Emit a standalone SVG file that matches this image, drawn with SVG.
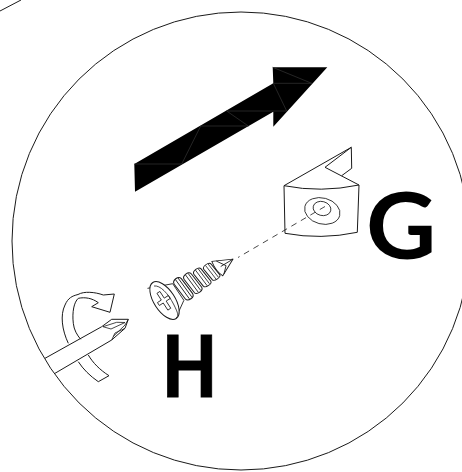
<svg xmlns="http://www.w3.org/2000/svg" width="462" height="472" viewBox="0 0 462 472">
<style>
.l{fill:none;stroke:#1a1a1a;stroke-width:1}
.t{fill:none;stroke:#1a1a1a;stroke-width:.8}
.g{fill:none;stroke:#2e2e2e;stroke-width:.8}
.lb{font-family:Lato,"Liberation Sans",sans-serif;font-size:85px;fill:#000}
</style>
<defs>
<g id="thr">
<path d="M0 -8C0 -12 8 -13 9 -9L11 8C11 12 3 12 2 9Z" fill="#fff" stroke="#1a1a1a" stroke-width="1"/>
<path d="M3.500 -11L5.500 10.500M6.500 -11L8.500 10" fill="none" stroke="#1a1a1a" stroke-width=".8"/>
</g>
</defs>
<rect width="462" height="472" fill="#fff"/>
<g id="circle">
<circle class="l" cx="241" cy="241" r="229"/>
<path class="l" d="M0 11L21 0"/>
</g>
<g id="arrow">
<path fill="#000" d="M134.3 164L273.3 83.3L272.7 67.3H327.3L273.3 126.7V111.7L135 191.7Z"/>
<path class="g" d="M134.3 164H181.700L200.700 126H248.300L226.700 111H286.700L273.300 83.300H311.700L272.700 67.300"/>
</g>
<g id="bracket">
<path class="l" stroke-linejoin="round" d="M284 185.700L351.300 147.300L351.700 168.300L341.700 175.700M351.300 147.300L325 167.300L359 185M284 185.700Q321 193 359 185L357.300 232.300Q321 240 285 233.300Z"/>
<ellipse class="t" cx="322.300" cy="211" rx="18" ry="13" transform="rotate(15 322.300 211)"/>
<ellipse class="t" cx="322" cy="208.500" rx="9" ry="7" transform="rotate(15 322 208.500)"/>
</g>
<g id="connectors">
<path class="t" stroke-dasharray="6 5" d="M325 206.500L238 257.500"/>
</g>
<g id="screw">
<g transform="translate(165 300) rotate(-31)">
<path class="t" fill="#fff" d="M-9 -19L15 -10L16 10L3 19"/>
<use href="#thr" transform="translate(49 0) scale(1 .8)"/>
<use href="#thr" transform="translate(38 0) scale(1 .9)"/>
<use href="#thr" transform="translate(27 0)"/>
<use href="#thr" transform="translate(16 0) scale(1 1.1)"/>
<path fill="#fff" stroke="#1a1a1a" stroke-width=".9" stroke-linejoin="round" d="M60 -9L79.400 0L62 9C60 5 59 -3 60 -9Z"/>
<path class="t" d="M65 0L79.400 0M64 -7L70 2L64 8"/>
</g>
<ellipse fill="#fff" stroke="#1a1a1a" stroke-width="1" cx="164.500" cy="300.500" rx="21.500" ry="10.500" transform="rotate(57 164.500 300.500)"/>
<path class="t" d="M154 286C160 285 168 293 174 305C178 313 179 316 176 318"/>
<path class="t" fill="#fff" transform="translate(164 300.700) rotate(57)" d="M-10 -1.600H-2V-6.500H1.500V-1.600H10V1.900H1.500V6.500H-2V1.900H-10Z"/>
</g>
<g id="driver">
<path class="l" fill="#fff" d="M68.300 343.300C62 330 60 315 65 305C68 298 72 296 78 294.500C84 291 95 292 103.300 295L114.300 294L110 312.300L91.700 306.700L98.300 302.700C92 298 85 297 78.300 298.300C74 302 72 312 73.300 323.300C74 330 77 335 80.700 339.300"/>
<path class="l" d="M78.300 361.700C83 369 90 376 98.300 381.700L109 375.700C100 370 93 363 88.300 355"/>
<path class="l" stroke-linejoin="round" d="M45 358.300L101.700 326.700L111.700 319.300H128.300L125 328.300L111.700 340L55 373.300"/>
<path class="t" d="M103 326.700L116.700 322.300L125 322.500L111 329L103 326.700M113 336.700L125 325L128.300 319.300M111.700 340L115 333L125 328.300"/>
</g>
<text id="label-g" class="lb" font-weight="700" transform="translate(366 259) scale(1.14 1.07)">G</text>
<text id="label-h" class="lb" font-weight="900" stroke="#000" stroke-width=".8" transform="translate(162 396.500) scale(.84 1.01)">H</text>
</svg>
